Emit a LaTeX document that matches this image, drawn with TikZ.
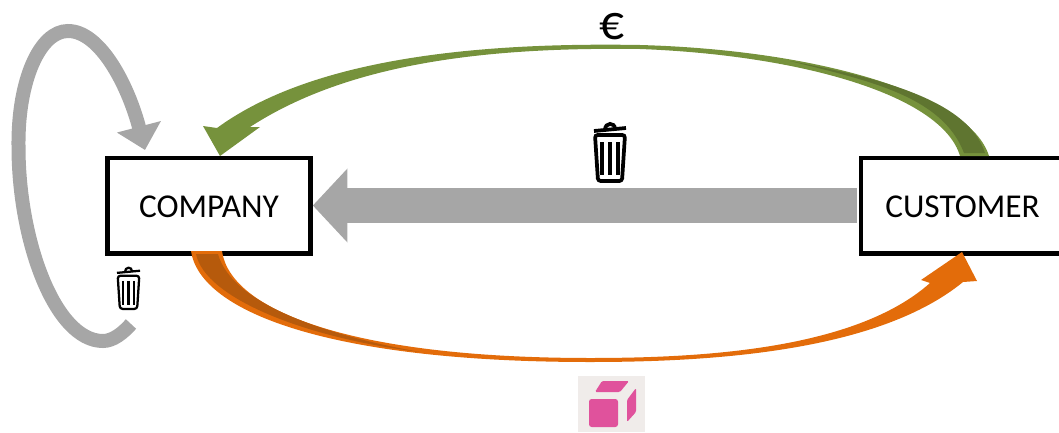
\documentclass[tikz,border=0pt]{standalone}
\usepackage{fontspec}
\setmainfont{Carlito}
\usetikzlibrary{arrows.meta}
\definecolor{flowgray}{HTML}{A6A6A6}
\definecolor{moneygreen}{HTML}{76923C}
\definecolor{moneydark}{HTML}{5F7530}
\definecolor{goodsorange}{HTML}{E36C0A}
\definecolor{goodsdark}{HTML}{B65A0C}
\definecolor{cubepink}{HTML}{E0529C}
\definecolor{cubeback}{HTML}{F0ECEA}
\tikzset{
    party/.style={draw=black, line width=3.4pt, fill=white, inner sep=0pt, minimum width=152.3pt, minimum height=71.6pt, text height=17.6pt, text depth=0pt, font=\fontsize{25}{30}\selectfont},
    pics/trashbin/.style={code={
        \draw[rounded corners=2pt] (-15,-17) -- (-12,29) -- (12,29) -- (15,-17) -- cycle;
        \draw (-16,-21) -- (16,-24);
        \draw (-5,-22) .. controls (-5,-30) and (5,-30) .. (5,-23);
        \foreach \x in {-8,0,8} {
            \draw (\x,-10) -- (\x,23);
        }
    }}
}
\begin{document}
\begin{tikzpicture}[x=0.75pt, y=-0.75pt]
    \useasboundingbox (0,0) rectangle (1059,432);
    \clip (0,0) rectangle (1059,432);

    % Scatole
    \node[party] (company) at (209,205.75) {COMPANY};
    \node[party] (customer) at (962.5,205.5) {CUSTOMER};

    % Freccia grigia centrale
    \draw[flowgray, line width=26.5pt, shorten <=1.5pt, -{Triangle[length=26pt, width=54pt]}] (customer.west) -- (company.east |- customer.west);

    % Anello grigio a sinistra
    \coordinate (looptail) at (131,324);
    \coordinate (loophead) at (145,150);
    \draw[flowgray, line width=10.5pt, -{Triangle[length=18pt, width=33pt]}] (looptail) .. controls (123,333) and (113,341) .. (103,341) .. controls (55,341) and (18,240) .. (18.5,145) .. controls (18,80) and (40,31) .. (68,31) .. controls (100,31) and (128,85) .. (loophead);

    % Freccia verde
    \fill[moneygreen] (989,156) .. controls (970,95) and (820,50) .. (640,45) .. controls (470,42) and (310,60) .. (217,128) -- (203,126) -- (220,156) -- (260,127) -- (250,127) .. controls (350,62) and (490,47) .. (640,49) .. controls (800,55) and (942,95) .. (960,156) -- cycle;
    \fill[moneydark] (985,153) .. controls (968,100) and (880,78) .. (790,61) .. controls (865,80) and (942,95) .. (964,153) -- cycle;

    % Freccia arancione
    \fill[goodsorange] (191,251) .. controls (200,312) and (330,362) .. (590,362) .. controls (720,362) and (880,350) .. (963,282) -- (977,281) -- (962,252) -- (921,280) -- (930,283) .. controls (855,350) and (700,358) .. (590,358) .. controls (350,358) and (230,310) .. (222,251) -- cycle;
    \fill[goodsdark] (196,254) .. controls (205,298) and (305,338) .. (420,352) .. controls (330,336) and (232,305) .. (218,254) -- cycle;

    % Testo e icone
    \node[font=\fontsize{37}{42}\selectfont] (euro) at (612,27) {€};
    \pic[line width=2.8pt] at (610,152) {trashbin};
    \pic[line width=1.7pt, scale=0.72] at (128.5,288) {trashbin};

    % Cubo rosa
    \node[fill=cubeback, inner sep=0pt, minimum width=50pt, minimum height=42pt] (cubebox) at (611.5,404) {};
    \fill[cubepink, rounded corners=2pt] (589,399) rectangle (618,427);
    \fill[cubepink, rounded corners=1pt] (595,392) -- (602,381) -- (629,381) -- (620,392) -- cycle;
    \fill[cubepink, rounded corners=1pt] (636,388) -- (636,412) -- (627,422) -- (627,400) -- cycle;
\end{tikzpicture}
\end{document}
